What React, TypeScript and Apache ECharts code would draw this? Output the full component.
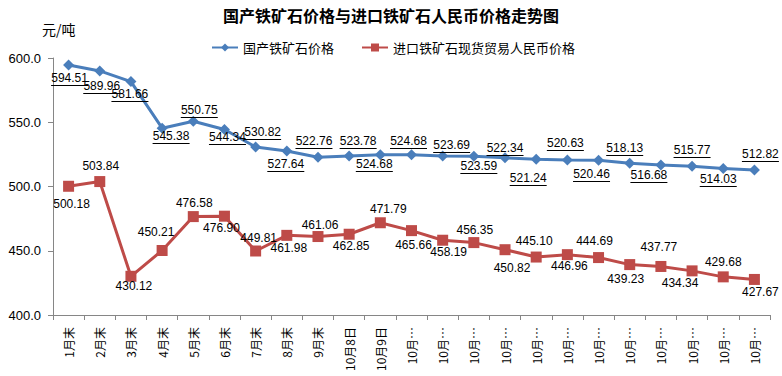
import React, { useEffect, useRef } from 'react';
import * as echarts from 'echarts';

const categories = [
  '1月末', '2月末', '3月末', '4月末', '5月末', '6月末', '7月末', '8月末', '9月末',
  '10月8日', '10月9日',
  '10月…', '10月…', '10月…', '10月…', '10月…', '10月…',
  '10月…', '10月…', '10月…', '10月…', '10月…', '10月…',
];

const domesticPrice = [
  594.51, 589.96, 581.66, 545.38, 550.75, 544.34, 530.82, 527.64, 522.76, 523.78,
  524.68, 524.68, 523.69, 523.59, 522.34, 521.24, 520.63, 520.46, 518.13, 516.68,
  515.77, 514.03, 512.82,
];

const importPrice = [
  500.18, 503.84, 430.12, 450.21, 476.58, 476.9, 449.81, 461.98, 461.06, 462.85,
  471.79, 465.66, 458.19, 456.35, 450.82, 445.1, 446.96, 444.69, 439.23, 437.77,
  434.34, 429.68, 427.67,
];

const seriesNames = ['国产铁矿石价格', '进口铁矿石现货贸易人民币价格'];

// label offsets (pixels) relative to each marker
const domesticLabelOffsets = [
  [1, 13], [2, 15], [-1, 12], [9, 8], [6, -11], [3, 7], [7, -15], [-1, 13], [-4, -16], [9, -15],
  [-6, 9], [-3, -14], [9, -11], [5, 10], [0, -10], [-8, 19], [-2, -17], [-7, 14], [-5, -15], [-12, 10],
  [0, -16], [-5, 11], [6, -16],
];

const importLabelOffsets = [
  [3, 18], [1, -16], [3, 10], [-6, -18], [1, -14], [-3, 12], [3, -13], [2, 13], [2, -12], [2, 12],
  [8, -14], [2, 14], [6, 12], [1, -13], [7, 18], [-2, -16], [2, 11], [-4, -17], [-4, 14], [-2, -19],
  [-12, 12], [0, -15], [6, 13],
];

const BLUE = '#4A7EBB';
const RED = '#BE4B48';
const AXIS = '#868686';
const NUM_FONT = 'Liberation Sans, Arial, sans-serif';
const CJK_FONT = '"Noto Sans CJK SC", sans-serif';
const UNDERLINE_HALF = 18.5;
const UNDERLINE_DY = 7;

export default function App() {
  const ref = useRef<HTMLDivElement>(null);

  useEffect(() => {
    document.body.style.margin = '0';
    const chart = echarts.init(ref.current as HTMLDivElement, null, { renderer: 'svg' });
    const option: any = {
      animation: false,
      backgroundColor: '#ffffff',
      title: {
        text: '国产铁矿石价格与进口铁矿石人民币价格走势图',
        left: 'center',
        top: 2,
        textStyle: { fontSize: 16, fontWeight: 'bold', fontFamily: CJK_FONT, color: '#000' },
      },
      graphic: [
        {
          type: 'text',
          left: 42,
          top: 22,
          style: { text: '元/吨', fontSize: 14, fontFamily: CJK_FONT, fill: '#000' },
        },
      ],
      legend: {
        left: 206,
        top: 36,
        itemWidth: 26,
        itemHeight: 10,
        itemGap: 27,
        textStyle: { fontSize: 13, fontFamily: CJK_FONT, color: '#000' },
        data: seriesNames,
      },
      grid: { left: 53, right: 12, top: 58, bottom: 61, outerBoundsMode: 'none' },
      xAxis: {
        type: 'category',
        data: categories,
        boundaryGap: true,
        axisLine: { show: true, lineStyle: { color: AXIS, width: 1 } },
        axisTick: { show: true, alignWithLabel: false, interval: 0, length: 5, lineStyle: { color: AXIS } },
        axisLabel: {
          interval: 0,
          rotate: 90,
          fontSize: 12,
          fontFamily: CJK_FONT,
          color: '#000',
          margin: 12,
        },
        splitLine: { show: false },
      },
      yAxis: {
        type: 'value',
        min: 400,
        max: 600,
        interval: 50,
        axisLine: { show: true, lineStyle: { color: AXIS, width: 1 } },
        axisTick: { show: true, length: 5, lineStyle: { color: AXIS } },
        axisLabel: {
          formatter: (v: number) => v.toFixed(1),
          fontSize: 13,
          fontFamily: NUM_FONT,
          color: '#000',
          margin: 12,
        },
        splitLine: { show: false },
      },
      series: [
        {
          name: seriesNames[0],
          type: 'line',
          symbol: 'diamond',
          symbolSize: 11,
          z: 3,
          lineStyle: { color: BLUE, width: 3 },
          itemStyle: { color: BLUE },
          data: domesticPrice.map((v, i) => ({
            value: v,
            label: { offset: domesticLabelOffsets[i] },
          })),
          label: {
            show: true,
            position: 'inside',
            color: '#000',
            textBorderWidth: 0,
            fontSize: 12,
            fontFamily: NUM_FONT,
            formatter: (p: any) => Number(p.value).toFixed(2),
          },
        },
        {
          name: seriesNames[1],
          type: 'line',
          symbol: 'rect',
          symbolSize: 11,
          z: 2,
          lineStyle: { color: RED, width: 3 },
          itemStyle: { color: RED },
          data: importPrice.map((v, i) => ({
            value: v,
            label: { offset: importLabelOffsets[i] },
          })),
          label: {
            show: true,
            position: 'inside',
            color: '#000',
            textBorderWidth: 0,
            fontSize: 12,
            fontFamily: NUM_FONT,
            formatter: (p: any) => Number(p.value).toFixed(2),
          },
        },
        {
          // underlines for the domestic price labels
          name: 'underline',
          type: 'custom',
          z: 4,
          silent: true,
          data: domesticPrice.map((v, i) => [i, v]),
          renderItem: (params: any, api: any) => {
            const i = params.dataIndex;
            const pt = api.coord([api.value(0), api.value(1)]);
            const off = domesticLabelOffsets[i];
            const cx = pt[0] + off[0];
            const y = Math.round(pt[1] + off[1] + UNDERLINE_DY) + 0.5;
            return {
              type: 'line',
              shape: { x1: cx - UNDERLINE_HALF, y1: y, x2: cx + UNDERLINE_HALF, y2: y },
              style: { stroke: '#000', lineWidth: 1 },
            };
          },
        },
      ],
    };
    chart.setOption(option);
    return () => chart.dispose();
  }, []);

  return <div ref={ref} style={{ width: 782, height: 376 }} />;
}
